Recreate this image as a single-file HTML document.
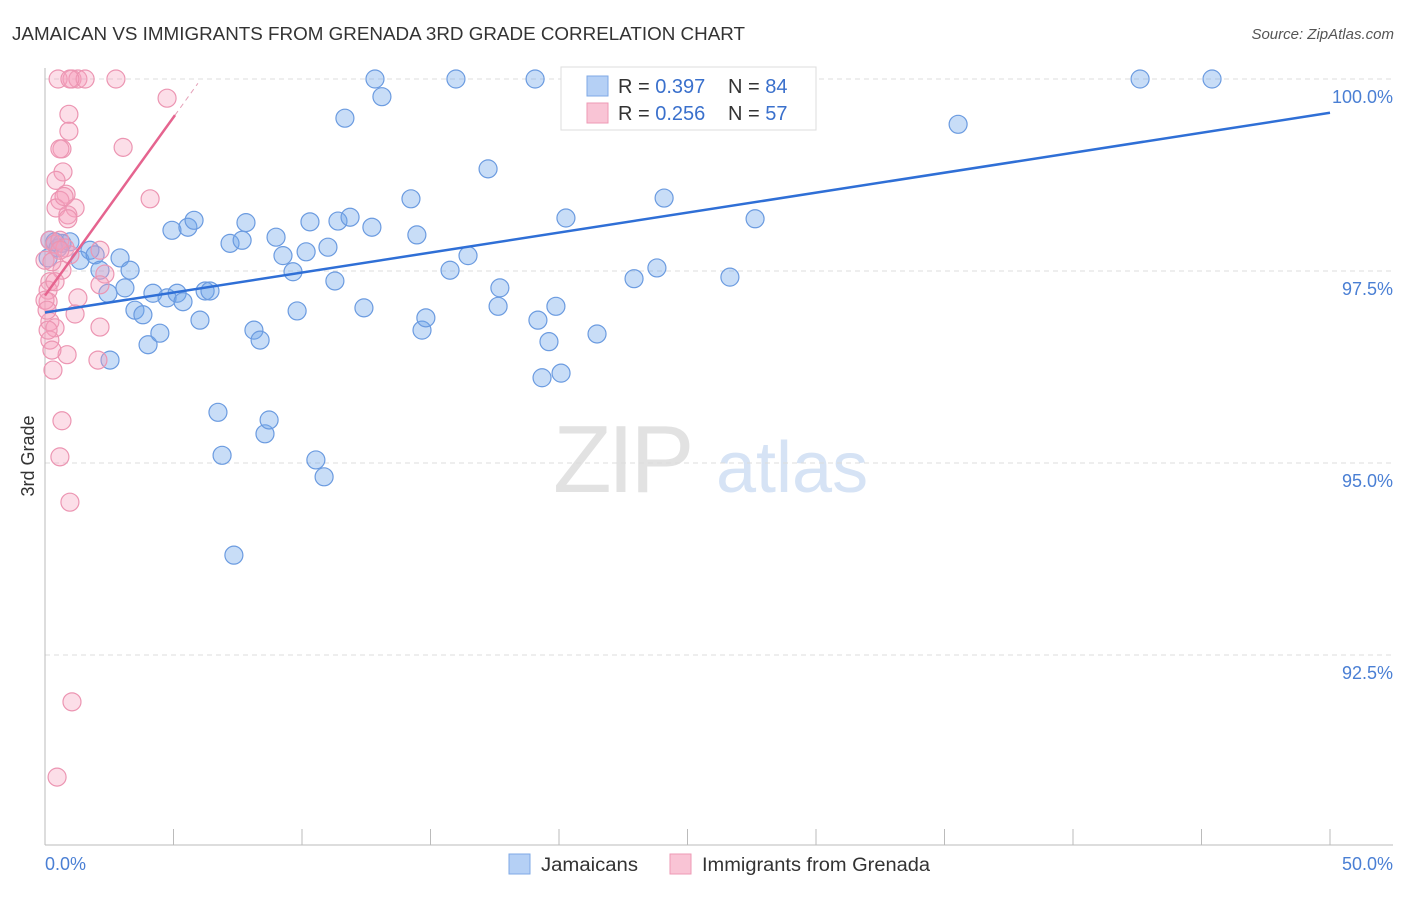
<!DOCTYPE html>
<html><head><meta charset="utf-8"><style>
body{margin:0;background:#fff;font-family:"Liberation Sans",sans-serif}
svg text{font-family:"Liberation Sans",sans-serif}
</style></head><body>
<svg id="c" width="1406" height="892" xmlns="http://www.w3.org/2000/svg">
<text x="12" y="40" font-size="18" fill="#333" textLength="733" lengthAdjust="spacingAndGlyphs">JAMAICAN VS IMMIGRANTS FROM GRENADA 3RD GRADE CORRELATION CHART</text>
<text x="1394" y="39" font-size="15" fill="#555" text-anchor="end" font-style="italic">Source: ZipAtlas.com</text>
<g>
<text x="553" y="492" font-size="96" fill="#e2e2e2" font-family="Liberation Serif" letter-spacing="-4">ZIP</text>
<text x="716" y="492" font-size="72" fill="#d6e3f5">atlas</text>
</g>
<g id="grid"></g>
<g id="axes"></g>
<g id="marks"></g>
<text transform="translate(34,456) rotate(-90)" font-size="18" fill="#333" text-anchor="middle">3rd Grade</text>
<g>
<rect x="561" y="67" width="255" height="63" fill="#fff" stroke="#ddd"/>
<rect x="587" y="76" width="21" height="20" fill="#b5d0f5" stroke="#7fa9e6"/>
<rect x="587" y="103" width="21" height="20" fill="#f9c4d5" stroke="#ee9ab5"/>
<text x="618" y="93" font-size="20" fill="#333">R = <tspan fill="#3a70cc">0.397</tspan></text>
<text x="728" y="93" font-size="20" fill="#333">N = <tspan fill="#3a70cc">84</tspan></text>
<text x="618" y="120" font-size="20" fill="#333">R = <tspan fill="#3a70cc">0.256</tspan></text>
<text x="728" y="120" font-size="20" fill="#333">N = <tspan fill="#3a70cc">57</tspan></text>
</g>
<g>
<rect x="509" y="854" width="21" height="20" fill="#b5d0f5" stroke="#7fa9e6"/>
<text x="541" y="871" font-size="19" fill="#333" textLength="97" lengthAdjust="spacingAndGlyphs">Jamaicans</text>
<rect x="670" y="854" width="21" height="20" fill="#f9c4d5" stroke="#ee9ab5"/>
<text x="702" y="871" font-size="19" fill="#333" textLength="228" lengthAdjust="spacingAndGlyphs">Immigrants from Grenada</text>
</g>
</svg>
<script>
const blueX=[.19,.39,.66,.97,1.75,1.36,1.95,2.92,3.31,2.14,2.45,3.11,3.50,3.81,4.01,4.20,4.47,4.75,4.94,5.14,5.37,5.56,5.80,6.03,6.23,6.42,6.73,6.89,7.20,7.35,7.67,7.82,8.13,8.37,8.56,8.72,8.99,9.26,9.65,9.81,10.16,10.31,10.54,10.86,11.01,11.28,11.40,11.67,11.87,12.41,12.72,12.84,13.11,14.24,14.47,14.67,14.82,15.76,15.99,16.46,17.24,17.63,17.70,19.07,19.18,19.34,19.61,19.88,20.08,20.27,21.48,22.92,23.81,24.09,26.50,26.65,27.63,28.60,35.53,42.61,45.41,.12,.51,2.53];
const blueY=[97.90,97.88,97.86,97.88,97.77,97.64,97.71,97.67,97.51,97.51,97.21,97.28,96.99,96.93,96.54,97.21,96.69,97.15,98.03,97.21,97.10,98.07,98.16,96.86,97.24,97.24,95.66,95.10,97.86,93.80,97.90,98.13,96.73,96.60,95.38,95.56,97.94,97.70,97.49,96.98,97.75,98.14,95.04,94.82,97.81,97.37,98.15,99.49,98.20,97.02,98.07,100,99.77,98.44,97.97,96.73,96.89,97.51,100,97.70,98.83,97.04,97.28,100,96.86,96.11,96.58,97.04,96.17,98.19,96.68,97.40,97.54,98.45,100,97.42,98.18,100,99.41,100,100,97.67,97.80,96.34];
const pinkX=[.51,1.05,1.28,1.56,.97,2.76,4.75,.93,.93,.66,.58,3.04,.70,.43,.82,.58,.43,1.17,.89,4.09,.89,.19,.39,.58,.78,2.14,.97,.66,2.33,.19,.12,.39,2.14,1.28,.12,1.17,.19,.39,2.14,.19,.86,2.06,.31,.66,.58,.97,1.05,.47,0,.12,.27,.58,0,.08,.27,.74];
const pinkY=[100,100,100,100,100,100,99.75,99.54,99.32,99.09,99.09,99.11,98.79,98.68,98.50,98.42,98.32,98.32,98.23,98.44,98.18,97.90,97.85,97.90,97.80,97.77,97.71,97.51,97.46,97.36,97.25,97.36,97.32,97.15,97.10,96.94,96.84,96.76,96.77,96.60,96.41,96.34,96.21,95.55,95.08,94.49,91.89,90.91,97.64,96.73,97.62,97.77,97.12,96.99,96.47,98.47];
const blueTrend=[96.96,99.56];
const pinkTrend=[97.18,99.53];
const yTicks=[100,97.5,95,92.5];
const yTickLabels=["100.0%","97.5%","95.0%","92.5%"];
const xTicks=[0,5,10,15,20,25,30,35,40,45,50];
const NS="http://www.w3.org/2000/svg";
const sx=v=>45+v*25.7;
const sy=v=>79+(100-v)*76.8;
function mk(tag,attrs,parent){const e=document.createElementNS(NS,tag);for(const k in attrs)e.setAttribute(k,attrs[k]);document.getElementById(parent).appendChild(e);return e;}
yTicks.forEach((t,i)=>{
 const g=mk('line',{x1:45,x2:1393,y1:sy(t),y2:sy(t),stroke:'#dcdcdc','stroke-dasharray':'5,4'},'grid');
 
 
 const l=mk('text',{x:1393,y:sy(t)+24,'text-anchor':'end','font-size':18,fill:'#4a7fd4'},'axes');
 l.textContent=yTickLabels[i];
 
 
});
const ax=mk('line',{x1:45,x2:45,y1:68,y2:845,stroke:'#bbb'},'axes');


const bx=mk('line',{x1:45,x2:1393,y1:845,y2:845,stroke:'#bbb'},'axes');


xTicks.forEach(t=>{
 const k=mk('line',{x1:sx(t),x2:sx(t),y1:829,y2:845,stroke:'#bbb'},'axes');
 
 
});
const xl0=mk('text',{x:45,y:870,'font-size':18,fill:'#4a7fd4'},'axes');xl0.textContent='0.0%';


const xl1=mk('text',{x:1393,y:870,'font-size':18,fill:'#4a7fd4','text-anchor':'end'},'axes');xl1.textContent='50.0%';


blueX.forEach((x,i)=>{
 const c=mk('circle',{cx:sx(x),cy:sy(blueY[i]),r:9,fill:'rgba(110,165,235,0.38)',stroke:'#6b9be0','stroke-width':1.2},'marks');
 
 
});
pinkX.forEach((x,i)=>{
 const c=mk('circle',{cx:sx(x),cy:sy(pinkY[i]),r:9,fill:'rgba(245,160,190,0.35)',stroke:'#ec95b2','stroke-width':1.2},'marks');
 
 
});
const bt=mk('line',{x1:sx(0),y1:sy(blueTrend[0]),x2:sx(50),y2:sy(blueTrend[1]),stroke:'#2f6fd6','stroke-width':2.5},'marks');


const slope=(pinkTrend[1]-pinkTrend[0])/5.06;
const pt=mk('line',{x1:sx(0),y1:sy(pinkTrend[0]),x2:sx(5.06),y2:sy(pinkTrend[1]),stroke:'#e5648f','stroke-width':2.5},'marks');


const pd=mk('line',{x1:sx(5.06),y1:sy(pinkTrend[1]),x2:sx(5.95),y2:sy(pinkTrend[0]+slope*5.95),stroke:'#e5a0b8','stroke-width':1,'stroke-dasharray':'5,4'},'marks');


</script>
</body></html>
